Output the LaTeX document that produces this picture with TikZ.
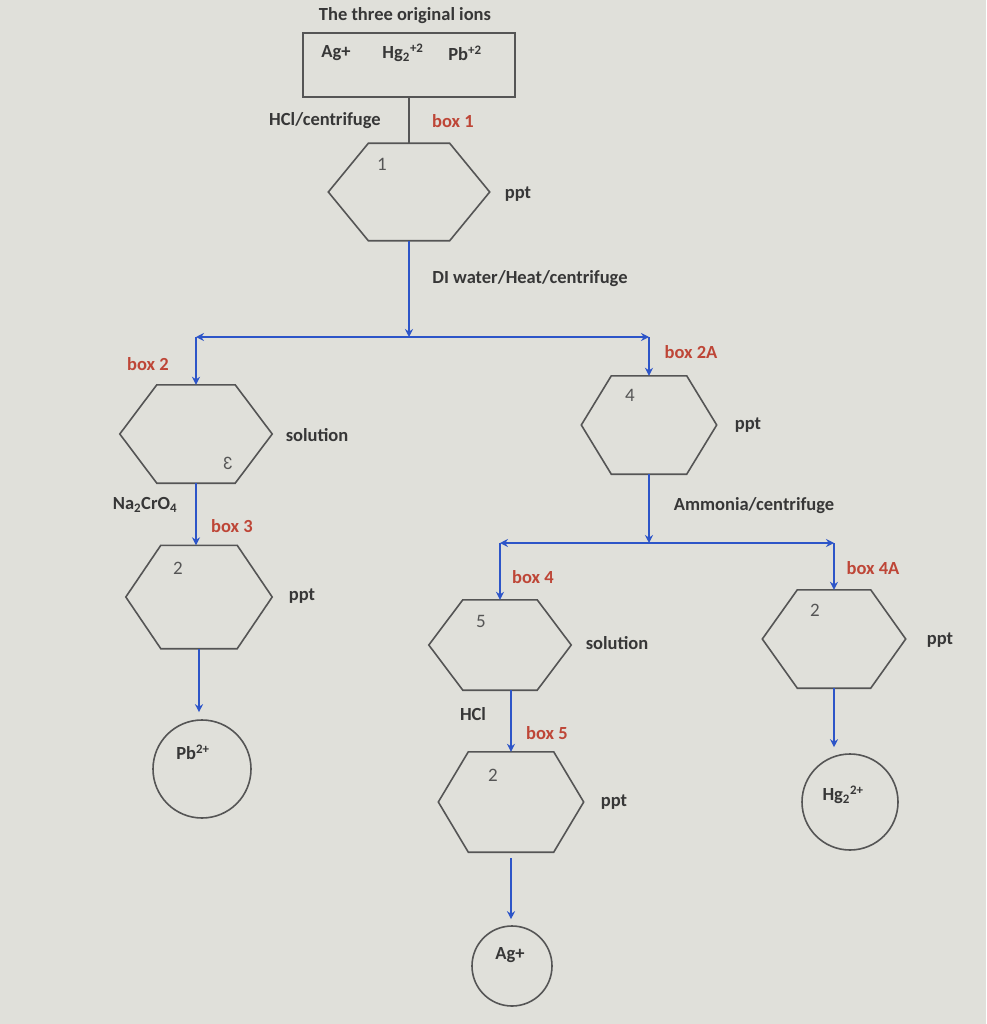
\documentclass[tikz,border=0pt]{standalone}
\usepackage{fontspec}
\setmainfont{Carlito}
\usetikzlibrary{arrows.meta,calc}
\definecolor{bg}{RGB}{224,224,218}
\definecolor{ink}{RGB}{55,55,55}
\definecolor{boxred}{RGB}{190,70,55}
\definecolor{flow}{RGB}{45,85,200}
\definecolor{edge}{RGB}{85,85,85}
\newcommand{\hexa}[2]{\draw[hexline] (#1.west) -- ([xshift=#2pt]#1.north west) -- ([xshift=-#2pt]#1.north east) -- (#1.east) -- ([xshift=-#2pt]#1.south east) -- ([xshift=#2pt]#1.south west) -- cycle;}
\tikzset{
  lbl/.style={font=\fontsize{18.5}{22}\selectfont\bfseries, text=ink, inner sep=0pt},
  redlbl/.style={lbl, text=boxred},
  num/.style={font=\fontsize{19}{22}\selectfont, text=edge, inner sep=0pt},
  hexbox/.style={draw=none, inner sep=0pt},
  hexline/.style={draw=edge, line width=1.6pt, line join=miter},
  ionbox/.style={draw=edge, line width=1.6pt, minimum width=212pt, minimum height=64pt, inner sep=0pt},
  ioncirc/.style={circle, draw=edge, line width=1.6pt, inner sep=0pt},
  flowarrow/.style={draw=flow, line width=2.2pt, -{Stealth[length=8pt,width=8pt]}},
  plainline/.style={draw=edge, line width=1.6pt}
}
\begin{document}
\begin{tikzpicture}[x=1pt,y=-1pt]
\fill[bg] (0,0) rectangle (986,1024);
\useasboundingbox (0,0) rectangle (986,1024);

% title and top box
\node[lbl] (title) at (405,16) {The three original ions};
\node[ionbox] (top) at (409,65) {};
\node[lbl] (ag0) at (336,53) {Ag+};
\node[lbl] (hg0) at (403,53) {Hg\textsubscript{2}\textsuperscript{+2}};
\node[lbl] (pb0) at (465,53) {Pb\textsuperscript{+2}};

% hexagons
\node[hexbox, minimum width=161pt, minimum height=97pt] (h1) at (409,192) {};
\hexa{h1}{40}
\node[hexbox, minimum width=152pt, minimum height=98pt] (h2) at (196,434) {};
\hexa{h2}{37}
\node[hexbox, minimum width=146pt, minimum height=103pt] (h3) at (199,597) {};
\hexa{h3}{35}
\node[hexbox, minimum width=135pt, minimum height=98pt] (h4) at (649,425) {};
\hexa{h4}{30}
\node[hexbox, minimum width=142pt, minimum height=90pt] (h5) at (500,645) {};
\hexa{h5}{34}
\node[hexbox, minimum width=145pt, minimum height=100pt] (h6) at (511,802) {};
\hexa{h6}{30}
\node[hexbox, minimum width=143pt, minimum height=98pt] (h7) at (834,639) {};
\hexa{h7}{35}

% circles
\node[ioncirc, minimum size=98pt] (pb) at (202,769) {};
\node[ioncirc, minimum size=80pt] (ag) at (512,966) {};
\node[ioncirc, minimum size=96pt] (hg) at (850,802) {};

% numbers in hexagons
\node[num] (n1) at (382,164) {1};
\node[num] (n2) at (228,463) {\scalebox{-1}[1]{3}};
\node[num] (n3) at (178,568) {2};
\node[num] (n4) at (630,395) {4};
\node[num] (n5) at (481,621) {5};
\node[num] (n6) at (493,775) {2};
\node[num] (n7) at (815,610) {2};

% ions in circles
\node[lbl] (pbt) at (193,752) {Pb\textsuperscript{2+}};
\node[lbl] (agt) at (510,955) {Ag+};
\node[lbl] (hgt) at (843,795) {Hg\textsubscript{2}\textsuperscript{2+}};

% side labels
\node[lbl] (l1) at (325,121) {HCl/centrifuge};
\node[redlbl] (b1) at (453,121) {box 1};
\node[lbl] (p1) at (518,194) {ppt};
\node[lbl] (l2) at (530,279) {DI water/Heat/centrifuge};
\node[redlbl] (b2) at (148,364) {box 2};
\node[lbl] (s2) at (317,435) {solution};
\node[lbl] (l3) at (145,505) {Na\textsubscript{2}CrO\textsubscript{4}};
\node[redlbl] (b3) at (232,526) {box 3};
\node[lbl] (p3) at (302,596) {ppt};
\node[redlbl] (b2a) at (691,352) {box 2A};
\node[lbl] (p4) at (748,425) {ppt};
\node[lbl] (l4) at (754,506) {Ammonia/centrifuge};
\node[redlbl] (b4) at (533,577) {box 4};
\node[lbl] (s5) at (617,643) {solution};
\node[lbl] (l5) at (473,714) {HCl};
\node[redlbl] (b5) at (547,733) {box 5};
\node[lbl] (p6) at (614,802) {ppt};
\node[redlbl] (b4a) at (873,568) {box 4A};
\node[lbl] (p7) at (940,640) {ppt};

% junction coordinates
\coordinate (j1) at (409,337);
\coordinate (c2) at (196,337);
\coordinate (c4) at (649,337);
\coordinate (j2) at (649,543);
\coordinate (c5) at (500,543);
\coordinate (c7) at (834,543);

% connectors
\draw[plainline] (top.south) -- (h1.north);
\draw[flowarrow] (h1.south) -- (j1);
\draw[flowarrow] (j1) -- (c2);
\draw[flowarrow] (c2) -- (h2.north);
\draw[flowarrow] (j1) -- (c4);
\draw[flowarrow] (c4) -- (h4.north);
\draw[flowarrow] (h2.south) -- (h2.south |- h3.north);
\draw[flowarrow, shorten >=7pt] (h3.south) -- (h3.south |- pb.north);
\draw[flowarrow] (h4.south) -- (j2);
\draw[flowarrow] (j2) -- (c5);
\draw[flowarrow] (c5) -- (h5.north);
\draw[flowarrow] (j2) -- (c7);
\draw[flowarrow] (c7) -- (h7.north);
\draw[flowarrow] (h6.north |- h5.south) -- (h6.north);
\draw[flowarrow, shorten >=6pt, shorten <=6pt] (h6.south) -- (h6.south |- ag.north);
\draw[flowarrow, shorten >=6pt] (h7.south) -- (h7.south |- hg.north);
\end{tikzpicture}
\end{document}
